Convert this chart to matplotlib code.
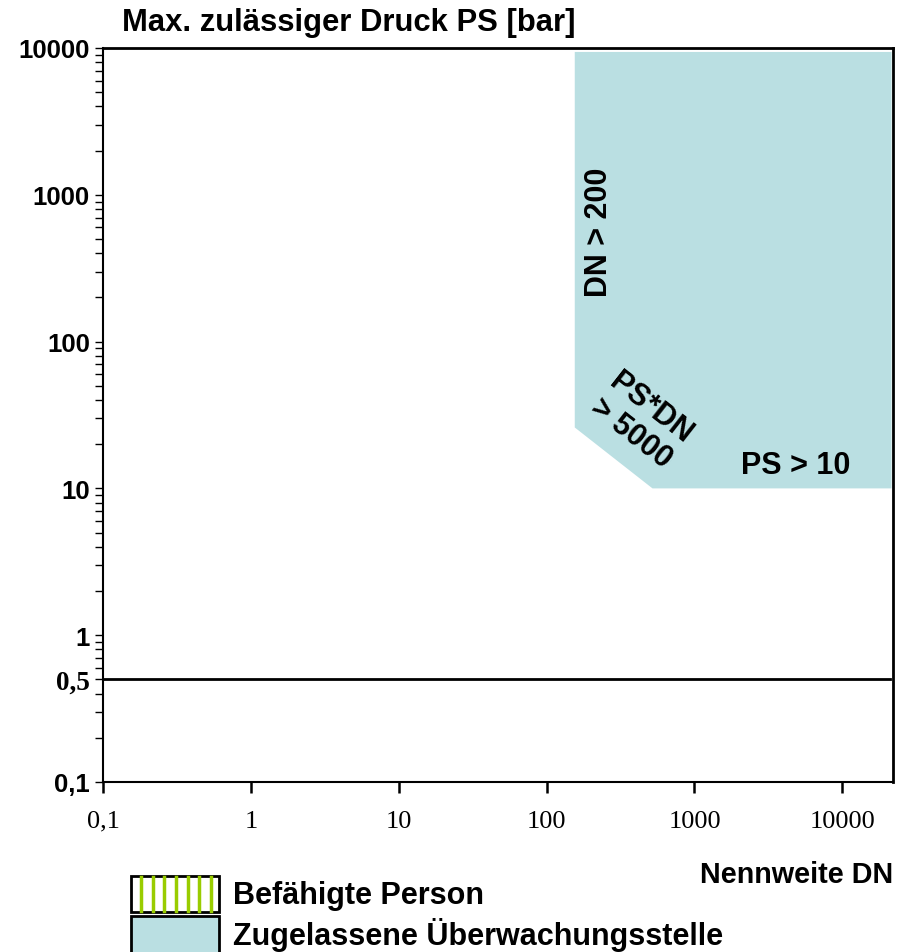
import matplotlib
matplotlib.use("Agg")
import matplotlib.pyplot as plt
from matplotlib.patches import Rectangle
from matplotlib.lines import Line2D

# ---- data ----
x_ticks = [0.1, 1, 10, 100, 1000, 10000]
x_labels = ["0,1", "1", "10", "100", "1000", "10000"]
y_ticks = [0.1, 0.5, 1, 10, 100, 1000, 10000]
y_labels = ["0,1", "0,5", "1", "10", "100", "1000", "10000"]
region_dn = [155, 155, 520, 21500, 21500]
region_ps = [9400, 26, 10, 10, 9400]
limit_ps = 0.5
limit_dn = [0.1, 21000]
fill_color = "#badfe2"
hatch_color = "#99cc00"

W, H = 905, 953
fig = plt.figure(figsize=(W / 100, H / 100), dpi=100)
ax = fig.add_axes([103 / W, 1 - 783 / H, (893 - 103) / W, (783 - 49) / H])
ax.set_xscale("log")
ax.set_yscale("log")
ax.set_xlim(0.1, 22000)
ax.set_ylim(0.1, 10000)

ax.fill(region_dn, region_ps, color=fill_color, lw=0, zorder=1)
ax.plot(limit_dn, [limit_ps, limit_ps], color="black", lw=2, zorder=2)

for name, s in ax.spines.items():
    s.set_linewidth(2 if name in ("top", "right") else 1.5)
    s.set_color("black")

ax.set_xticks(x_ticks)
ax.set_xticklabels(x_labels, family="Liberation Serif", fontsize=19)
ax.xaxis.set_minor_locator(matplotlib.ticker.NullLocator())
ax.tick_params(axis="x", which="major", direction="out", length=8, width=1.8, pad=12)

ax.set_yticks(y_ticks)
ax.set_yticklabels(y_labels, family="Liberation Sans", fontweight="bold", fontsize=18.5)
for lbl in ax.get_yticklabels():
    if lbl.get_text() == "0,5":
        lbl.set_family("Liberation Serif")
        lbl.set_fontsize(19.5)
ax.yaxis.set_minor_locator(matplotlib.ticker.LogLocator(base=10, subs=range(2, 10)))
ax.yaxis.set_minor_formatter(matplotlib.ticker.NullFormatter())
ax.tick_params(axis="y", which="both", direction="out", length=5.5, width=1, pad=4)

bold = dict(family="Liberation Sans", fontweight="bold")
ax.text(599 / W, 1 - 232 / H, "DN > 200", transform=fig.transFigure, rotation=90,
        ha="center", va="center", fontsize=22, **bold)
ax.text(641 / W, 1 - 421 / H, "PS*DN\n> 5000", transform=fig.transFigure,
        rotation=-38, ha="center", va="center", fontsize=22, linespacing=1.05,
        rotation_mode="anchor", **bold)
ax.text(796 / W, 1 - 466 / H, "PS > 10", transform=fig.transFigure,
        ha="center", va="center", fontsize=22, **bold)

fig.text(122 / W, 1 - 23 / H, "Max. zulässiger Druck PS [bar]", ha="left",
         va="center", fontsize=22.3, **bold)
fig.text(893 / W, 1 - 875 / H, "Nennweite DN", ha="right", va="center",
         fontsize=20.7, **bold)

# legend
bx0, bx1 = 131 / W, 219 / W
r1 = Rectangle((bx0, 1 - 913 / H), bx1 - bx0, 36 / H, transform=fig.transFigure,
               facecolor="white", edgecolor="black", lw=2)
fig.add_artist(r1)
for px in [141, 152.7, 164.3, 176, 187.7, 199.3, 211]:
    fig.add_artist(Line2D([px / W, px / W], [1 - 912 / H, 1 - 878 / H],
                          transform=fig.transFigure, color=hatch_color, lw=2.5))
r2 = Rectangle((bx0, 1 - 955 / H), bx1 - bx0, 38 / H, transform=fig.transFigure,
               facecolor=fill_color, edgecolor="black", lw=2)
fig.add_artist(r2)
fig.text(233 / W, 1 - 896 / H, "Befähigte Person", ha="left", va="center",
         fontsize=22, **bold)
fig.text(233 / W, 1 - 935 / H, "Zugelassene Überwachungsstelle", ha="left",
         va="center", fontsize=22, **bold)

fig.savefig("out.png", dpi=100)
